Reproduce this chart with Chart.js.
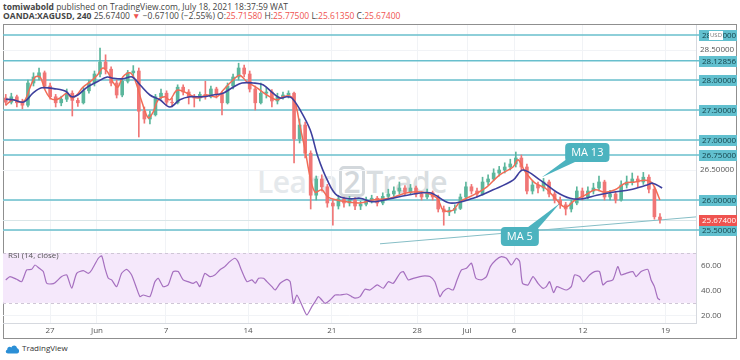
<!DOCTYPE html>
<html>
<head>
<meta charset="utf-8">
<script src="https://cdn.jsdelivr.net/npm/chart.js@4.4.1/dist/chart.umd.min.js"></script>
<style>
  body { margin: 0; width: 740px; height: 360px; background: #fff; position: relative; overflow: hidden; font-family: "Open Sans", sans-serif; color: #333; }
  .hdr { position: absolute; left: 3px; font-size: 8.5px; line-height: 9px; white-space: nowrap; color: #444; }
  #hdr1 { top: 2px; }
  #hdr2 { top: 11px; }
  .red { color: #ef5350; }
  #frame { position: absolute; left: 3px; top: 24px; width: 734px; height: 315px; box-sizing: border-box; border: 1px solid #8f8f8f; }
  #wm { position: absolute; left: 257px; top: 164px; font-size: 30px; font-weight: 600; line-height: 36px; color: #e5e9ec; white-space: nowrap; letter-spacing: -0.5px; }
  #wm .two { display: inline-block; border: 3px solid #d3d8dc; border-radius: 5px; color: #d3d8dc; line-height: 25px; padding: 0 2px; margin: 0 1px; }
  #wm .t { color: #d9dee1; }
  canvas { position: absolute; }
  #priceChart { left: 3px; top: 25px; z-index: 3; }
  #rsiChart { left: 3px; top: 245px; z-index: 2; }
  #foot { position: absolute; left: 5px; top: 342px; font-size: 8px; line-height: 12px; color: #333; }
  #foot svg { vertical-align: middle; margin-right: 2px; }
</style>
</head>
<body>
<div class="hdr" id="hdr1"><b>tomiwabold</b> published on TradingView.com, July 18, 2021 18:37:59 WAT</div>
<div class="hdr" id="hdr2"><b>OANDA:XAGUSD, 240</b> 25.67400 <span class="red">&#9660;</span> &minus;0.67100 (&minus;2.55%) O:<span class="red">25.71580</span> H:<span class="red">25.77500</span> L:<span class="red">25.61350</span> C:<span class="red">25.67400</span></div>
<div id="frame"></div>
<div id="wm"><span>Learn</span><span class="two">2</span><span class="t">Trade</span></div>
<canvas id="priceChart" width="734" height="230"></canvas>
<canvas id="rsiChart" width="734" height="93"></canvas>
<div id="foot"><svg width="15" height="10" viewBox="0 0 15 10"><path d="M3 9.5 C0.5 9.5 0 6.5 2.2 5.8 C2 3 5 2 6.3 3.6 C7.2 0.6 11.8 0.8 12 4.2 C14.6 4.4 15 9.5 12 9.5 Z" fill="#2b8fd6"/></svg>TradingView</div>

<script>
// 4h candles, one slot per candle (x = slot index)
const opens = [27.70,27.63,27.72,27.62,27.58,27.95,28.05,28.12,27.90,27.72,
  27.62,27.68,27.78,27.66,27.62,27.82,27.95,28.10,28.30,28.18,
  27.95,27.75,27.98,28.12,28.15,27.48,27.35,27.42,27.72,27.78,
  27.63,27.62,27.88,27.80,27.72,27.70,27.76,27.72,27.85,27.76,
  27.62,27.90,28.05,28.20,28.10,27.85,27.62,27.78,27.80,27.65,
  27.72,27.75,27.78,27.02,27.25,26.78,26.08,26.35,26.22,25.95,
  25.90,26.02,25.95,26.00,25.90,25.93,25.98,26.03,25.95,26.06,
  26.10,26.15,26.20,26.13,26.20,26.10,26.05,26.12,26.05,25.85,
  25.80,25.83,25.86,26.05,26.22,26.15,26.10,26.30,26.35,26.45,
  26.50,26.55,26.60,26.70,26.55,26.15,26.25,26.20,26.30,26.10,
  26.00,25.92,25.85,25.95,26.15,26.05,26.15,26.20,26.30,26.05,
  26.10,26.00,26.25,26.30,26.35,26.30,26.38,26.18,25.7158];
const highs = [27.76,27.78,27.75,27.68,28.00,28.12,28.20,28.15,27.95,27.76,
  27.73,27.85,27.82,27.70,27.88,28.00,28.15,28.53,28.42,28.22,
  28.00,28.02,28.16,28.24,28.20,27.55,27.48,27.76,27.85,27.82,
  27.70,27.92,27.92,27.84,27.76,27.80,27.98,27.90,27.88,27.80,
  27.95,28.10,28.28,28.25,28.15,27.90,27.95,27.88,27.84,27.78,
  27.80,27.82,27.80,27.35,27.30,26.82,26.40,26.42,26.26,26.00,
  26.08,26.05,26.06,26.04,25.98,26.05,26.08,26.06,26.12,26.18,
  26.22,26.30,26.24,26.26,26.23,26.14,26.18,26.15,26.08,25.90,
  25.88,25.92,26.10,26.30,26.26,26.20,26.38,26.42,26.52,26.56,
  26.62,26.68,26.80,26.75,26.60,26.32,26.30,26.36,26.33,26.14,
  26.05,25.96,26.00,26.22,26.20,26.22,26.28,26.40,26.33,26.16,
  26.14,26.32,26.40,26.45,26.40,26.46,26.42,26.22,25.775];
const lows = [27.58,27.60,27.55,27.52,27.55,27.90,28.00,27.85,27.68,27.55,
  27.57,27.64,27.40,27.56,27.60,27.78,27.90,28.05,28.10,27.90,
  27.70,27.72,27.95,28.05,27.05,27.28,27.27,27.40,27.68,27.58,
  27.55,27.60,27.75,27.60,27.55,27.65,27.68,27.70,27.70,27.42,
  27.60,27.85,28.00,28.05,27.80,27.50,27.60,27.70,27.55,27.60,
  27.68,27.70,26.62,26.95,26.70,25.85,26.00,26.15,25.88,25.58,
  25.85,25.88,25.90,25.84,25.84,25.90,25.95,25.90,25.92,26.02,
  26.06,26.10,26.08,26.10,26.05,26.00,26.02,26.00,25.80,25.58,
  25.74,25.78,25.84,26.00,26.10,26.05,26.08,26.25,26.32,26.40,
  26.45,26.50,26.55,26.50,26.10,26.10,26.12,26.15,26.05,25.95,
  25.86,25.75,25.80,25.92,26.00,26.02,26.10,26.15,26.00,26.00,
  25.95,25.98,26.20,26.25,26.22,26.26,26.12,25.68,25.6135];
const closes = [27.63,27.72,27.62,27.58,27.95,28.05,28.12,27.90,27.72,27.62,
  27.68,27.78,27.66,27.62,27.82,27.95,28.10,28.30,28.18,27.95,
  27.75,27.98,28.12,28.15,27.48,27.35,27.42,27.72,27.78,27.63,
  27.62,27.88,27.80,27.72,27.70,27.76,27.72,27.85,27.76,27.62,
  27.90,28.05,28.20,28.10,27.85,27.62,27.78,27.80,27.65,27.72,
  27.75,27.78,27.02,27.25,26.78,26.08,26.35,26.22,25.95,25.90,
  26.02,25.95,26.00,25.90,25.93,25.98,26.03,25.95,26.06,26.10,
  26.15,26.20,26.13,26.20,26.10,26.05,26.12,26.05,25.85,25.80,
  25.83,25.86,26.05,26.22,26.15,26.10,26.30,26.35,26.45,26.50,
  26.55,26.60,26.70,26.55,26.15,26.25,26.20,26.30,26.10,26.00,
  25.92,25.85,25.95,26.15,26.05,26.15,26.20,26.30,26.05,26.10,
  26.00,26.25,26.30,26.35,26.30,26.38,26.18,25.72,25.674];

// moving averages (slot, price)
const ma13X = [0,1.3,3.1,3.8,4.9,6.5,9.2,10.3,11.0,11.9,13.0,14.7,16.5,18.3,19.3,21.1,22.8,24.2,26.0,27.8,
  29.6,31.4,33.2,35.6,37.4,39.2,41.0,42.6,44.6,46.4,48.2,49.5,50.7,51.6,53.1,54.9,56.3,58.0,59.7,62.1,
  63.9,66.2,69.3,72.4,76.5,80.1,84.3,87.9,91.5,93.3,96.4,99.4,101.8,104.1,106.6,109.5,112.6,115.7,116.7,118.4];
const ma13V = [27.68,27.67,27.63,27.67,27.78,27.87,27.85,27.83,27.80,27.72,27.75,27.88,27.97,28.05,28.03,28.02,28.05,27.92,27.75,27.67,
  27.55,27.67,27.72,27.72,27.75,27.78,27.88,27.95,27.95,27.92,27.78,27.70,27.72,27.70,27.50,27.17,26.72,26.33,26.08,26.02,
  26.03,25.97,26.02,26.08,26.12,25.95,26.03,26.17,26.33,26.50,26.33,26.13,26.03,26.02,26.08,26.13,26.17,26.25,26.28,26.20];
const ma5X = [0,1.3,2.6,3.5,4.4,5.3,6.2,7.1,8.0,8.9,9.8,11.0,11.9,12.8,13.9,15.2,16.5,17.5,18.4,19.3,
  20.2,21.1,22.4,23.3,24.6,25.7,26.6,27.5,28.7,29.6,30.9,32.7,34.5,36.3,38.1,39.2,41.0,42.2,43.5,45.3,
  47.1,48.9,50.0,51.3,52.2,53.1,54.0,54.9,55.8,57.0,58.1,59.7,61.5,63.9,66.2,69.3,72.4,75.3,77.8,78.9,
  80.7,81.9,84.3,86.8,89.1,91.5,92.4,93.7,95.5,97.3,99.1,100.9,102.7,104.5,106.3,108.1,109.9,111.7,113.5,115.3,
  116.6,118.0];
const ma5V = [27.58,27.67,27.63,27.67,27.88,28.05,28.05,27.83,27.70,27.67,27.70,27.78,27.70,27.75,27.88,27.97,28.08,28.20,28.13,27.97,
  27.88,28.05,28.12,28.00,27.62,27.37,27.47,27.67,27.72,27.67,27.83,27.78,27.70,27.75,27.72,27.83,28.00,28.08,27.97,27.87,
  27.75,27.67,27.72,27.73,27.62,27.22,26.83,26.38,26.13,26.17,26.05,26.00,25.97,25.95,26.00,26.03,26.12,26.13,26.03,25.83,
  25.83,25.97,26.08,26.22,26.42,26.55,26.67,26.47,26.28,26.20,26.03,25.88,26.00,26.08,26.17,26.13,26.17,26.28,26.30,26.33,
  26.28,26.00];

// RSI (14, close)
const rsiX = [0,0.76,1.97,2.87,3.77,4.67,5.27,6.05,6.77,7.38,8.28,8.88,10.09,10.99,11.89,12.79,13.99,14.89,15.5,16.7,
  17.3,17.9,18.5,19.1,20.0,20.9,21.8,22.7,23.6,24.2,24.8,26.0,26.9,27.5,28.4,29.3,30.2,31.1,32.0,32.9,
  33.8,34.4,35.0,35.9,36.8,37.7,38.6,39.5,40.4,41.3,41.9,42.5,43.5,44.4,45.0,45.6,46.5,47.1,48.0,48.6,
  49.5,50.7,51.3,51.9,52.5,53.4,54.3,55.2,55.8,56.4,57.0,57.6,58.5,59.4,60.3,61.5,62.4,63.0,63.9,64.8,
  65.7,67.0,68.1,69.0,69.9,71.1,71.7,72.6,73.5,74.7,75.6,76.5,77.4,78.3,78.9,79.8,80.7,81.4,82.2,83.1,
  84.0,84.8,85.8,86.7,87.4,88.4,89.4,90.3,91.2,92.1,92.7,93.2,94.2,95.1,96.0,96.9,97.5,98.1,98.8,99.4,
  100.2,101.1,102.0,102.6,103.5,104.2,105.3,106.2,107.1,107.7,108.4,109.5,110.4,111.0,111.9,113.1,113.7,114.6,115.8,116.4,
  117.0,117.6,118.0];
const rsiV = [48.4,51.1,48.9,47.0,56.4,56.9,60.4,57.7,55.1,45.7,45.2,46.2,51.1,52.4,41.7,53.7,55.9,53.7,56.4,65.8,
  67.7,57.7,49.7,48.4,43.0,53.7,56.9,52.4,41.7,35.0,36.3,35.0,47.0,49.7,43.0,44.4,55.1,55.1,48.4,47.0,
  45.7,47.0,43.0,53.7,51.1,52.4,56.4,59.1,63.1,65.8,63.1,56.4,47.0,48.4,45.7,49.7,49.7,47.0,43.0,40.3,
  45.7,48.9,47.0,29.6,36.3,28.3,20.3,27.0,31.0,35.0,32.3,29.6,32.3,36.3,36.3,37.1,35.0,33.7,35.0,40.9,
  40.3,44.4,41.7,47.0,45.7,53.7,55.1,48.4,49.7,51.1,51.6,51.1,47.0,35.0,39.0,41.7,40.3,48.4,56.4,57.7,
  61.8,49.7,48.4,51.1,59.1,64.4,67.1,65.8,60.4,65.8,63.1,45.7,44.4,51.1,45.7,41.7,43.0,47.0,38.2,43.0,
  41.7,40.3,43.0,52.4,51.1,47.0,52.4,55.1,55.1,44.4,47.0,48.4,59.1,52.4,53.7,55.1,51.1,55.1,56.9,48.4,
  43.0,33.7,32.3];
const rsiTicks = [20, 40, 60];
const rsiBand = [30, 70];

// date axis
const tickPos = [8.0, 16.45, 28.9, 43.7, 58.8, 74.2, 83.2, 91.7, 104.1, 119.0];
const tickLabels = ['27', 'Jun', '7', '14', '21', '28', 'Jul', '6', '12', '19'];

// price axis and drawn levels
const priceTicks = [25.5, 26.0, 26.5, 27.0, 27.5, 28.0, 28.5];
const levelValues = [28.75, 28.32, 28.0, 27.5, 27.0, 26.75, 26.0, 25.5];
const levelLabels = ['28.75000', '28.12856', '28.00000', '27.50000', '27.00000', '26.75000', '26.00000', '25.50000'];
const lastPrice = 25.674;

// support trend line
const trendX = [67.5, 124.7];
const trendV = [25.27, 25.72];

// callouts: label, box corner (slot, price), tip (slot, price)
const calloutLabels = ['MA 13', 'MA 5'];
const calloutX = [100.9, 89.3];
const calloutY = [26.95, 25.55];
const tipX = [96.7, 100.0];
const tipY = [26.38, 25.95];

const UP = '#5cb69c';
const DOWN = '#f07676';
const FONT = '"Open Sans", sans-serif';
Chart.defaults.font.family = FONT;

const candleColors = closes.map((c, i) => c >= opens[i] ? UP : DOWN);
const bodies = closes.map((c, i) => ({x: i, y: [opens[i], c]}));
const wicks = closes.map((c, i) => ({x: i, y: [lows[i], highs[i]]}));

// keep the plot area flush with the canvas edges
const noPad = s => { s.paddingTop = 0; s.paddingBottom = 0; s.paddingLeft = 0; s.paddingRight = 0; };

const levelPlugin = {
  id: 'levels',
  beforeDatasetsDraw(chart) {
    const {ctx, chartArea: a, scales: {y}} = chart;
    ctx.save();
    ctx.strokeStyle = '#68bfcd';
    ctx.lineWidth = 1.5;
    levelValues.forEach(v => {
      const py = y.getPixelForValue(v);
      ctx.beginPath();
      ctx.moveTo(a.left, py);
      ctx.lineTo(a.right + 3, py);
      ctx.stroke();
    });
    // last price line
    const lp = Math.round(y.getPixelForValue(lastPrice)) + 0.5;
    ctx.strokeStyle = '#d9e6e8';
    ctx.lineWidth = 1;
    ctx.beginPath();
    ctx.moveTo(a.left, lp);
    ctx.lineTo(a.right, lp);
    ctx.stroke();
    ctx.restore();
  },
  afterDatasetsDraw(chart) {
    const {ctx, scales: {x, y}} = chart;
    ctx.save();
    ctx.font = '11px ' + FONT;
    calloutLabels.forEach((label, i) => {
      const bx = x.getPixelForValue(calloutX[i]);
      const by = y.getPixelForValue(calloutY[i]);
      const w = ctx.measureText(label).width + 12;
      const h = 19;
      const px = x.getPixelForValue(tipX[i]);
      const py = y.getPixelForValue(tipY[i]);
      ctx.fillStyle = '#4cb3bf';
      ctx.beginPath();
      if (py > by) {
        ctx.moveTo(bx + 3, by + h - 4);
        ctx.lineTo(px, py);
        ctx.lineTo(bx + 12, by + h - 1);
      } else {
        ctx.moveTo(bx + w - 12, by + 1);
        ctx.lineTo(px, py);
        ctx.lineTo(bx + w - 3, by + 4);
      }
      ctx.fill();
      ctx.beginPath();
      ctx.roundRect(bx, by, w, h, 4);
      ctx.fill();
      ctx.fillStyle = '#ffffff';
      ctx.textBaseline = 'middle';
      ctx.fillText(label, bx + 6, by + h / 2 + 0.5);
    });
    ctx.restore();
  },
  afterDraw(chart) {
    const {ctx, chartArea: a, scales: {y}} = chart;
    ctx.save();
    ctx.font = '8px ' + FONT;
    ctx.textBaseline = 'middle';
    const box = (v, text, bg, fg) => {
      const py = Math.round(y.getPixelForValue(v));
      ctx.fillStyle = bg;
      ctx.fillRect(a.right + 3, py - 5, 38, 11);
      ctx.fillStyle = fg;
      ctx.fillText(text, a.right + 6, py + 0.5);
    };
    levelValues.forEach((v, i) => box(v, levelLabels[i], '#62c0cf', '#16444c'));
    box(lastPrice, lastPrice.toFixed(5), '#ef5350', '#ffffff');
    // currency tag over the top label
    const ty = Math.round(y.getPixelForValue(levelValues[0]));
    ctx.fillStyle = '#ffffff';
    ctx.fillRect(a.right + 13, ty - 4, 14, 9);
    ctx.fillStyle = '#777';
    ctx.font = '6px ' + FONT;
    ctx.fillText('USD', a.right + 14, ty + 0.5);
    ctx.restore();
  }
};

new Chart(document.getElementById('priceChart'), {
  type: 'bar',
  data: {
    datasets: [
      { type: 'line', label: 'MA 13', data: ma13X.map((x, i) => ({x, y: ma13V[i]})), borderColor: '#3d3f9d', borderWidth: 1.6, pointRadius: 0, tension: 0.35, order: 0 },
      { type: 'line', label: 'MA 5', data: ma5X.map((x, i) => ({x, y: ma5V[i]})), borderColor: '#f26c56', borderWidth: 1.5, pointRadius: 0, tension: 0.35, order: 1 },
      { label: 'body', data: bodies, backgroundColor: candleColors, barThickness: 3, grouped: false, order: 2 },
      { label: 'wick', data: wicks, backgroundColor: candleColors, barThickness: 1, grouped: false, order: 3 },
      { type: 'line', label: 'trend', data: trendX.map((x, i) => ({x, y: trendV[i]})), borderColor: '#86bec6', borderWidth: 1, pointRadius: 0, order: 4 }
    ]
  },
  options: {
    responsive: false,
    animation: false,
    events: [],
    layout: { padding: { left: 0, right: 0, top: 0, bottom: 10 } },
    plugins: { legend: { display: false }, tooltip: { enabled: false } },
    scales: {
      x: {
        type: 'linear', min: -0.5, max: 124.5, offset: false,
        afterBuildTicks: s => { s.ticks = tickPos.map(value => ({value})); },
        afterFit: s => { s.height = 0; noPad(s); },
        ticks: { display: false },
        grid: { color: '#f1f3f6', drawTicks: false, offset: false },
        border: { display: false }
      },
      y: {
        position: 'right', min: 25.25, max: 28.9167,
        afterBuildTicks: s => { s.ticks = priceTicks.map(value => ({value})); },
        afterFit: s => { s.width = 41; noPad(s); },
        ticks: { padding: 4, color: '#555', font: { size: 8 }, callback: v => v.toFixed(5) },
        grid: { color: '#f1f3f6', drawTicks: false },
        border: { color: '#d6d9df' }
      }
    }
  },
  plugins: [levelPlugin]
});

const rsiPlugin = {
  id: 'rsiBand',
  beforeDatasetsDraw(chart) {
    const {ctx, chartArea: a, scales: {y}} = chart;
    const top = y.getPixelForValue(rsiBand[1]);
    const bot = y.getPixelForValue(rsiBand[0]);
    ctx.save();
    ctx.fillStyle = '#f5e8fb';
    ctx.fillRect(a.left, top, a.right - a.left, bot - top);
    ctx.strokeStyle = '#cfc6d6';
    ctx.setLineDash([3, 3]);
    ctx.lineWidth = 1;
    [top, bot].forEach(py => {
      ctx.beginPath();
      ctx.moveTo(a.left, Math.round(py) + 0.5);
      ctx.lineTo(a.right, Math.round(py) + 0.5);
      ctx.stroke();
    });
    ctx.restore();
  },
  afterDraw(chart) {
    const {ctx, chartArea: a} = chart;
    ctx.save();
    ctx.font = '8px ' + FONT;
    ctx.fillStyle = '#555';
    ctx.textBaseline = 'middle';
    ctx.fillText('RSI (14, close)', a.left + 5, a.top + 11);
    ctx.restore();
  }
};

new Chart(document.getElementById('rsiChart'), {
  type: 'line',
  data: {
    datasets: [{ label: 'RSI', data: rsiX.map((x, i) => ({x, y: rsiV[i]})), borderColor: '#a56fbf', borderWidth: 1.2, pointRadius: 0, tension: 0.2 }]
  },
  options: {
    responsive: false,
    animation: false,
    events: [],
    layout: { padding: 0 },
    plugins: { legend: { display: false }, tooltip: { enabled: false } },
    scales: {
      x: {
        type: 'linear', min: -0.5, max: 124.5,
        afterBuildTicks: s => { s.ticks = tickPos.map(value => ({value})); },
        afterFit: s => { s.height = 15; noPad(s); },
        ticks: { autoSkip: false, maxRotation: 0, padding: 3, color: '#555', font: { size: 8 }, callback: (v, i) => tickLabels[i] },
        grid: { color: '#f1f3f6', drawTicks: false },
        border: { color: '#d6d9df' }
      },
      y: {
        position: 'right', min: 13.8, max: 76.45,
        afterBuildTicks: s => { s.ticks = rsiTicks.map(value => ({value})); },
        afterFit: s => { s.width = 41; noPad(s); },
        ticks: { padding: 5, color: '#555', font: { size: 8 }, callback: v => v.toFixed(2) },
        grid: { color: '#f1f3f6', drawTicks: false },
        border: { color: '#d6d9df' }
      }
    }
  },
  plugins: [rsiPlugin]
});
</script>
</body>
</html>
